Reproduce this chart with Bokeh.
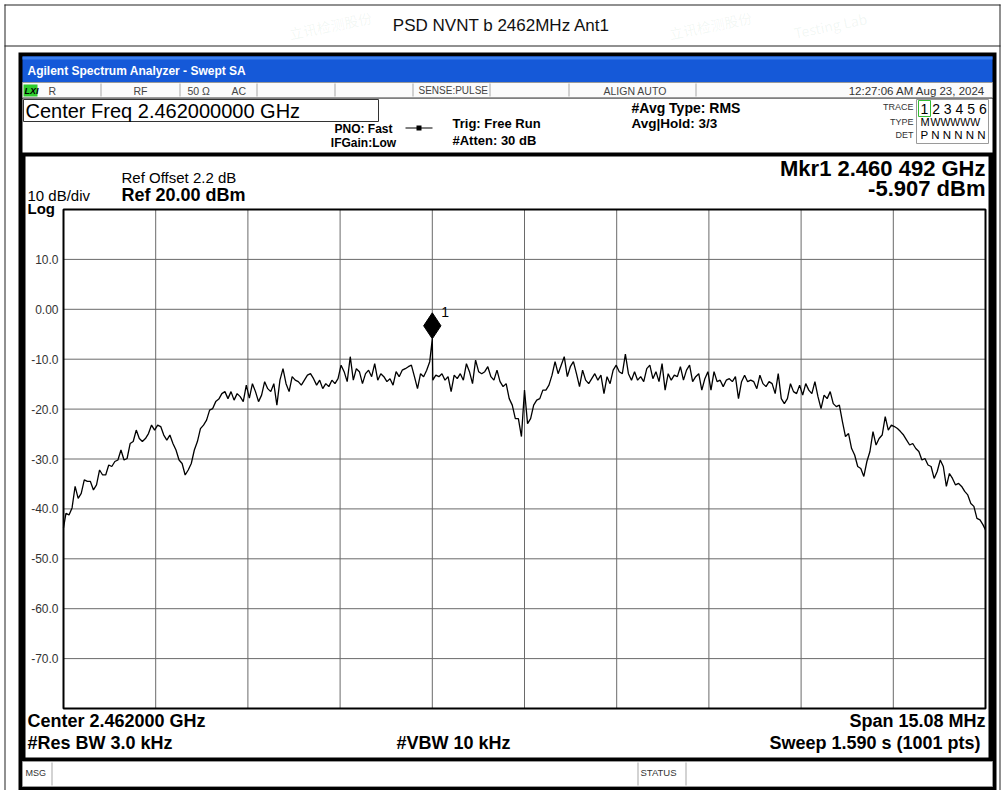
from bokeh.plotting import figure
from bokeh.models import Range1d
from bokeh.core.properties import value
from bokeh.embed import file_html
from bokeh.resources import INLINE

# ---------------- data ----------------
center_mhz = 2462.0
span_mhz = 15.08
ref_level_dbm = 20.0
db_per_div = 10.0

freq_offset_mhz = [
    -7.54, -7.50, -7.45, -7.40, -7.35, -7.30, -7.25, -7.20, -7.15, -7.10,
    -7.05, -7.00, -6.95, -6.90, -6.85, -6.80, -6.75, -6.70, -6.65, -6.60,
    -6.55, -6.50, -6.45, -6.40, -6.35, -6.30, -6.25, -6.20, -6.15, -6.10,
    -6.05, -6.00, -5.95, -5.90, -5.85, -5.80, -5.75, -5.70, -5.65, -5.60,
    -5.55, -5.50, -5.45, -5.40, -5.35, -5.30, -5.25, -5.20, -5.15, -5.10,
    -5.05, -5.00, -4.95, -4.90, -4.85, -4.80, -4.75, -4.70, -4.65, -4.60,
    -4.55, -4.50, -4.45, -4.40, -4.35, -4.30, -4.25, -4.20, -4.15, -4.10,
    -4.05, -4.00, -3.95, -3.90, -3.85, -3.80, -3.75, -3.70, -3.65, -3.60,
    -3.55, -3.50, -3.45, -3.40, -3.35, -3.30, -3.25, -3.20, -3.15, -3.10,
    -3.05, -3.00, -2.95, -2.90, -2.85, -2.80, -2.75, -2.70, -2.65, -2.60,
    -2.55, -2.50, -2.45, -2.40, -2.35, -2.30, -2.25, -2.20, -2.15, -2.10,
    -2.05, -2.00, -1.95, -1.90, -1.85, -1.80, -1.75, -1.70, -1.65, -1.60,
    -1.55, -1.508, -1.50, -1.45, -1.40, -1.35, -1.30, -1.25, -1.20, -1.15,
    -1.10, -1.05, -1.00, -0.95, -0.90, -0.85, -0.80, -0.75, -0.70, -0.65,
    -0.60, -0.55, -0.50, -0.45, -0.40, -0.35, -0.30, -0.25, -0.20, -0.15,
    -0.10, -0.05, 0.00, 0.05, 0.10, 0.15, 0.20, 0.25, 0.30, 0.35,
    0.40, 0.45, 0.50, 0.55, 0.60, 0.65, 0.70, 0.75, 0.80, 0.85,
    0.90, 0.95, 1.00, 1.05, 1.10, 1.15, 1.20, 1.25, 1.30, 1.35,
    1.40, 1.45, 1.50, 1.55, 1.60, 1.65, 1.70, 1.75, 1.80, 1.85,
    1.90, 1.95, 2.00, 2.05, 2.10, 2.15, 2.20, 2.25, 2.30, 2.35,
    2.40, 2.45, 2.50, 2.55, 2.60, 2.65, 2.70, 2.75, 2.80, 2.85,
    2.90, 2.95, 3.00, 3.05, 3.10, 3.15, 3.20, 3.25, 3.30, 3.35,
    3.40, 3.45, 3.50, 3.55, 3.60, 3.65, 3.70, 3.75, 3.80, 3.85,
    3.90, 3.95, 4.00, 4.05, 4.10, 4.15, 4.20, 4.25, 4.30, 4.35,
    4.40, 4.45, 4.50, 4.55, 4.60, 4.65, 4.70, 4.75, 4.80, 4.85,
    4.90, 4.95, 5.00, 5.05, 5.10, 5.15, 5.20, 5.25, 5.30, 5.35,
    5.40, 5.45, 5.50, 5.55, 5.60, 5.65, 5.70, 5.75, 5.80, 5.85,
    5.90, 5.95, 6.00, 6.05, 6.10, 6.15, 6.20, 6.25, 6.30, 6.35,
    6.40, 6.45, 6.50, 6.55, 6.60, 6.65, 6.70, 6.75, 6.80, 6.85,
    6.90, 6.95, 7.00, 7.05, 7.10, 7.15, 7.20, 7.25, 7.30, 7.35,
    7.40, 7.45, 7.50, 7.54,
]

level_dbm = [
    -43.8, -40.9, -41.2, -39.8, -35.5, -37.9, -36.9, -34.2, -34.5, -34.5,
    -36.2, -35.2, -32.2, -33.2, -33.2, -31.2, -31.5, -30.5, -30.2, -28.2,
    -30.2, -29.9, -26.9, -26.5, -24.2, -25.9, -26.5, -25.9, -24.9, -23.2,
    -24.2, -23.2, -23.5, -25.2, -26.2, -25.2, -26.9, -28.2, -30.2, -30.9,
    -33.2, -32.2, -30.9, -28.2, -26.5, -23.9, -23.2, -22.2, -20.2, -19.9,
    -18.5, -18.0, -16.9, -16.5, -17.9, -16.5, -18.2, -16.9, -17.5, -18.5,
    -15.2, -17.8, -14.9, -16.5, -18.5, -17.2, -14.5, -15.9, -16.5, -14.9,
    -19.2, -14.2, -11.9, -14.9, -16.5, -13.5, -14.2, -14.5, -15.2, -14.2,
    -13.2, -12.9, -13.9, -15.2, -14.2, -15.9, -14.9, -15.5, -14.2, -14.9,
    -13.9, -11.2, -12.5, -14.5, -9.5, -14.2, -11.9, -12.5, -14.9, -12.9,
    -12.2, -13.5, -10.9, -14.2, -12.9, -13.5, -14.5, -13.9, -15.2, -12.5,
    -13.5, -12.2, -11.9, -11.5, -11.2, -13.5, -15.9, -12.9, -13.5, -12.2,
    -10.5, -5.907, -14.2, -13.2, -13.5, -12.9, -14.2, -13.5, -16.5, -13.2,
    -13.9, -12.9, -14.2, -10.9, -12.5, -14.9, -10.2, -12.5, -12.9, -12.5,
    -11.5, -13.5, -14.2, -12.2, -14.5, -15.5, -14.9, -17.9, -19.2, -21.9,
    -21.9, -25.5, -16.2, -22.9, -21.9, -19.2, -18.2, -17.9, -16.2, -16.2,
    -15.2, -13.2, -10.5, -12.9, -11.2, -9.5, -13.5, -11.5, -10.5, -12.9,
    -15.5, -12.2, -14.2, -14.9, -13.9, -12.9, -14.2, -13.2, -16.9, -13.5,
    -14.9, -12.2, -11.2, -12.5, -12.9, -9.0, -12.9, -14.2, -12.5, -14.2,
    -13.5, -14.5, -11.9, -11.2, -13.9, -12.5, -14.5, -10.9, -16.2, -12.9,
    -14.2, -13.2, -13.5, -11.5, -14.2, -12.2, -11.2, -14.5, -13.5, -12.9,
    -16.2, -13.9, -12.5, -16.2, -12.5, -14.5, -14.2, -15.5, -14.2, -13.9,
    -14.5, -13.5, -17.9, -14.5, -13.2, -14.5, -14.2, -14.5, -15.9, -13.2,
    -14.9, -15.5, -14.5, -14.9, -16.9, -12.9, -17.9, -18.9, -17.9, -14.9,
    -16.5, -16.9, -15.2, -17.2, -14.9, -16.2, -16.9, -14.5, -17.5, -19.9,
    -17.2, -17.9, -16.5, -18.9, -19.5, -19.2, -22.5, -25.5, -24.9, -27.9,
    -29.2, -31.5, -31.9, -33.5, -30.5, -28.5, -24.5, -27.2, -25.9, -25.2,
    -21.5, -24.2, -23.2, -23.5, -23.9, -24.5, -25.2, -26.2, -27.2, -26.9,
    -27.9, -28.5, -30.2, -29.9, -31.2, -31.5, -33.9, -32.5, -30.2, -31.5,
    -35.5, -32.9, -33.9, -35.2, -34.9, -35.5, -36.5, -37.2, -38.9, -39.5,
    -41.9, -42.2, -43.2, -44.2,
]

marker_freq_mhz = 2460.492
marker_level_dbm = -5.907

y_tick_values = [10, 0, -10, -20, -30, -40, -50, -60, -70]
y_tick_labels = ["10.0", "0.00", "-10.0", "-20.0", "-30.0", "-40.0", "-50.0", "-60.0", "-70.0"]

# ---------------- layout (page pixels) ----------------
W, H = 1002, 790
PL, PR, PT, PB = 63, 985, 209, 708   # graticule box on the page

x_start = center_mhz - span_mhz / 2
x_end = center_mhz + span_mhz / 2
y_bot = ref_level_dbm - 10 * db_per_div
px_per_mhz = (PR - PL) / span_mhz
px_per_db = (PB - PT) / (ref_level_dbm - y_bot)

p = figure(width=W, height=H, output_backend="svg", toolbar_location=None,
           x_range=Range1d(0, W), y_range=Range1d(H, 0), min_border=0)
p.axis.visible = False
p.grid.visible = False
p.outline_line_color = None
p.border_fill_color = "white"
p.background_fill_color = "white"

# data coordinate system mapped onto the graticule box
p.extra_x_ranges = {"freq": Range1d(x_start - PL / px_per_mhz, x_end + (W - PR) / px_per_mhz)}
p.extra_y_ranges = {"dbm": Range1d(y_bot - (H - PB) / px_per_db, ref_level_dbm + PT / px_per_db)}
D = dict(x_range_name="freq", y_range_name="dbm")
FONT = value("Liberation Sans")


def rect(x1, y1, x2, y2, fill=None, line=None, lw=1):
    p.quad(left=[x1], right=[x2], top=[y1], bottom=[y2],
           fill_color=fill, line_color=line, line_width=lw)


def txt(x, y, s, size, bold=False, align="left", color="#000000", italic=False):
    style = "normal"
    if bold and italic:
        style = "bold italic"
    elif bold:
        style = "bold"
    elif italic:
        style = "italic"
    p.text(x=[x], y=[y], text=[s], text_font=FONT, text_font_size=f"{size}px",
           text_font_style=style, text_align=align, text_baseline="middle", text_color=color)


# page frame and title
rect(4, 4, 1000, 5, "#222222")
rect(4, 4, 5, 790, "#222222")
rect(999, 4, 1000, 790, "#222222")
rect(4, 45, 1000, 46, "#222222")
txt(501, 25, "PSD NVNT b 2462MHz Ant1", 17, align="center", color="#111111")

# analyzer window
rect(18, 52, 996, 790, "black")
rect(22, 56, 992, 82, "#1559d8")
rect(22, 56, 992, 59, "#3a7ff0")
txt(27, 70, "Agilent Spectrum Analyzer - Swept SA", 12, bold=True, color="white")

# status row
rect(22, 82, 992, 97, "#fbfbfb", "#9a9a9a")
for xd in [100, 179, 256, 334, 412, 489, 568, 695]:
    rect(xd, 83, xd + 1, 96, "#a8a8a8")
rect(23, 84, 37, 96, "#2ecc2e")
txt(24, 90, "LXI", 9, bold=True, italic=True)
txt(48, 90, "R", 10.5, color="#444444")
txt(133, 90, "RF", 10.5, color="#444444")
txt(187, 90, "50 Ω", 10.5, color="#444444")
txt(231, 90, "AC", 10.5, color="#444444")
txt(418, 90, "SENSE:PULSE", 10, color="#444444")
txt(603, 90, "ALIGN AUTO", 10.5, color="#444444")
txt(985, 90, "12:27:06 AM Aug 23, 2024", 11.5, align="right", color="#333333")

# settings header
rect(22, 98, 992, 152, "white")
rect(23, 99, 378, 121, "white", "#333333")
txt(25, 110, "Center Freq 2.462000000 GHz", 20)
txt(363, 128, "PNO: Fast", 12, bold=True, align="center")
txt(363, 142, "IFGain:Low", 12, bold=True, align="center")
rect(405, 127, 432, 128, "black")
rect(416, 125, 421, 130, "black")
txt(452, 123, "Trig: Free Run", 13, bold=True)
txt(452, 140, "#Atten: 30 dB", 13, bold=True)
txt(631, 107, "#Avg Type: RMS", 14, bold=True)
txt(631, 123, "Avg|Hold: 3/3", 13.5, bold=True)

rect(916, 99, 988, 143, None, "#9a9a9a")
rect(918, 100, 930, 116, None, "#33bb33")
txt(913, 106, "TRACE", 9, align="right", color="#333333")
txt(913, 121, "TYPE", 9, align="right", color="#333333")
txt(913, 134, "DET", 9, align="right", color="#333333")
txt(920, 108, "1 2 3 4 5 6", 14)
txt(920, 121, "M", 11)
txt(930, 121, "WWWWW", 10.5)
txt(920, 134, "P N N N N N", 11.5)

# graph area
rect(25, 156, 988, 757, "white")
txt(121, 177, "Ref Offset 2.2 dB", 15)
txt(121, 194, "Ref 20.00 dBm", 18, bold=True)
txt(27, 195, "10 dB/div", 15)
txt(27, 208, "Log", 15, bold=True)
txt(985, 168, "Mkr1 2.460 492 GHz", 22, bold=True, align="right")
txt(985, 188, "-5.907 dBm", 22, bold=True, align="right")

txt(27, 720, "Center 2.462000 GHz", 18, bold=True)
txt(985, 720, "Span 15.08 MHz", 18, bold=True, align="right")
txt(27, 742, "#Res BW 3.0 kHz", 18, bold=True)
txt(396, 742, "#VBW 10 kHz", 18, bold=True)
txt(985, 742, "Sweep  1.590 s (1001 pts)", 18, bold=True, align="right")

# message bar
rect(22, 761, 992, 786, "white", "#9a9a9a")
for xd in [51, 637, 685]:
    rect(xd, 762, xd + 1, 785, "#a8a8a8")
txt(25, 772, "MSG", 9, color="#333333")
txt(640, 772, "STATUS", 9.5, color="#333333")

# ---------------- graticule, trace, marker (data coordinates) ----------------
div_w = span_mhz / 10
gx = [x_start + k * div_w for k in range(1, 10)]
gy = [ref_level_dbm - k * db_per_div for k in range(1, 10)]
p.segment(x0=gx, y0=[y_bot] * len(gx), x1=gx, y1=[ref_level_dbm] * len(gx),
          line_color="#6a6a6a", line_width=1, **D)
p.segment(x0=[x_start] * len(gy), y0=gy, x1=[x_end] * len(gy), y1=gy,
          line_color="#6a6a6a", line_width=1, **D)
p.quad(left=[x_start], right=[x_end], bottom=[y_bot], top=[ref_level_dbm],
       fill_color=None, line_color="black", line_width=2, **D)

p.text(x=[x_start] * len(y_tick_values), y=y_tick_values, text=y_tick_labels, x_offset=-5,
       text_font=FONT, text_font_size="12px", text_align="right", text_baseline="middle",
       text_color="#333333", **D)

xs = [center_mhz + f for f in freq_offset_mhz]
p.line(xs, level_dbm, line_color="black", line_width=1.3, **D)

p.scatter([marker_freq_mhz], [marker_level_dbm + 2.6], marker="diamond", size=26,
          fill_color="black", line_color="black", **D)
p.text(x=[marker_freq_mhz], y=[marker_level_dbm], text=["1"], x_offset=9, y_offset=-27,
       text_font=FONT, text_font_size="14px", text_baseline="middle", text_color="black", **D)

# faint watermark, kept inside the title row
for wx, wy, ws in [(330, 25, "立讯检测股份"), (710, 25, "立讯检测股份"), (830, 25, "Testing Lab")]:
    p.text(x=[wx], y=[wy], text=[ws], text_font=value("Noto Sans CJK SC"), text_font_size="14px",
           text_align="center", text_baseline="middle", text_color="#3f8f5f", text_alpha=0.08,
           angle=0.2)

open("out.html", "w").write(file_html(p, INLINE))
